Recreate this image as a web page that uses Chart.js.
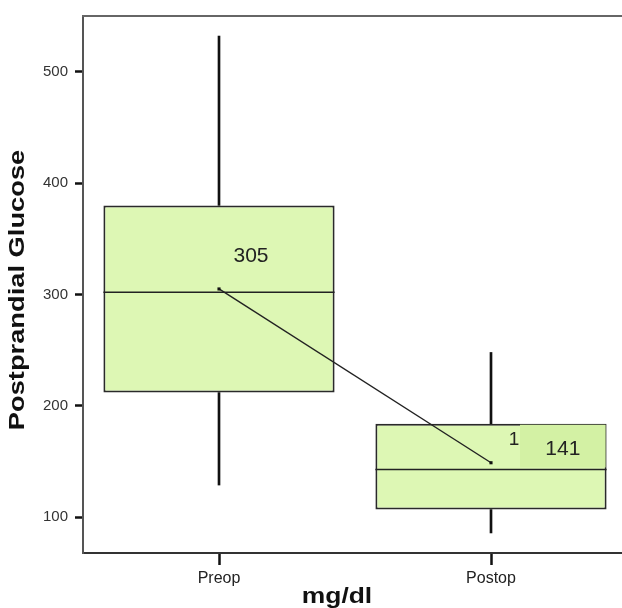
<!DOCTYPE html>
<html>
<head>
<meta charset="utf-8">
<script src="https://cdn.jsdelivr.net/npm/chart.js@4.4.1/dist/chart.umd.min.js"></script>
<style>
  html, body { margin: 0; padding: 0; background: #fff; overflow: hidden; }
  #wrap { width: 640px; height: 608px; }
</style>
</head>
<body>
<div id="wrap"><canvas id="chart" width="640" height="608"></canvas></div>
<script>
// --- datos ---
const groups = ['Preop', 'Postop'];
const whiskerMin = [129, 86];
const q1 = [212, 107];
const medians = [302, 143];
const q3 = [380, 184];
const whiskerMax = [532, 248];
const means = [305, 149];
const yTicks = [100, 200, 300, 400, 500];
const valueLabels = ['305', '141'];
const caseLabel = '1';

const boxFill = '#ddf7b4';
const labelFill = '#d3f1a4';

// cajas, bigotes y medianas a partir de los arrays
const boxData = groups.map((g, i) => [q1[i], q3[i]]);
const lowWhisker = groups.map((g, i) => [whiskerMin[i], q1[i]]);
const highWhisker = groups.map((g, i) => [q3[i], whiskerMax[i]]);

function stretchedText(ctx, text, x, y, sx) {
    ctx.save();
    ctx.translate(x, y);
    ctx.scale(sx, 1);
    ctx.fillText(text, 0, 0);
    ctx.restore();
}

const extras = {
    id: 'extras',
    afterDatasetsDraw(chart) {
        const ctx = chart.ctx;
        const y = chart.scales.y;
        const boxes = chart.getDatasetMeta(2).data;

        // medianas
        ctx.save();
        ctx.strokeStyle = '#222';
        ctx.lineWidth = 1.6;
        boxes.forEach((bar, i) => {
            const py = y.getPixelForValue(medians[i]);
            ctx.beginPath();
            ctx.moveTo(bar.x - bar.width / 2, py);
            ctx.lineTo(bar.x + bar.width / 2, py);
            ctx.stroke();
        });
        ctx.restore();

        // etiquetas de valores
        ctx.save();
        const pre = boxes[0], post = boxes[1];
        const topPost = y.getPixelForValue(q3[1]);
        const medPost = y.getPixelForValue(medians[1]);
        const bgLeft = post.x + 29;
        const bgRight = post.x + post.width / 2 - 1;
        ctx.fillStyle = labelFill;
        ctx.fillRect(bgLeft, topPost + 1, bgRight - bgLeft, medPost - topPost - 3);

        ctx.fillStyle = '#222';
        ctx.font = '21px Arial, "Liberation Sans", sans-serif';
        ctx.textAlign = 'center';
        ctx.textBaseline = 'middle';
        ctx.fillText(valueLabels[0], pre.x + 32, y.getPixelForValue(means[0]) - 33);
        ctx.fillText(valueLabels[1], (bgLeft + bgRight) / 2, topPost + 25);
        ctx.font = '19px Arial, "Liberation Sans", sans-serif';
        ctx.fillText(caseLabel, post.x + 23, topPost + 16);
        ctx.restore();
    },
    afterDraw(chart) {
        const ctx = chart.ctx;
        const area = chart.chartArea;
        ctx.save();
        // borde superior del marco
        ctx.strokeStyle = '#666';
        ctx.lineWidth = 2;
        ctx.beginPath();
        ctx.moveTo(area.left - 1, area.top);
        ctx.lineTo(chart.width, area.top);
        ctx.stroke();

        // titulos de ejes
        ctx.fillStyle = '#111';
        ctx.font = 'bold 22px Arial, "Liberation Sans", sans-serif';
        ctx.textAlign = 'center';
        ctx.textBaseline = 'middle';
        stretchedText(ctx, 'mg/dl', 337, 597, 1.2);

        ctx.save();
        ctx.translate(18, 290);
        ctx.rotate(-Math.PI / 2);
        stretchedText(ctx, 'Postprandial Glucose', 0, 0, 1.24);
        ctx.restore();
        ctx.restore();
    }
};

new Chart(document.getElementById('chart'), {
    data: {
        labels: groups,
        datasets: [
            {
                type: 'bar', data: lowWhisker, grouped: false, order: 3,
                backgroundColor: '#111', barThickness: 2, borderWidth: 0
            },
            {
                type: 'bar', data: highWhisker, grouped: false, order: 3,
                backgroundColor: '#111', barThickness: 2, borderWidth: 0
            },
            {
                type: 'bar', data: boxData, grouped: false, order: 2,
                backgroundColor: boxFill, borderColor: '#2a2a2a', borderWidth: 2,
                borderSkipped: false, barPercentage: 0.85, categoryPercentage: 1
            },
            {
                type: 'line', data: means, order: 0,
                borderColor: '#222', borderWidth: 1.4,
                pointStyle: 'rect', pointRadius: 2.2, pointBackgroundColor: '#111', pointBorderWidth: 0
            }
        ]
    },
    options: {
        responsive: false,
        animation: false,
        layout: { padding: { left: 0, top: 11, right: 13, bottom: 0 } },
        plugins: { legend: { display: false }, tooltip: { enabled: false } },
        scales: {
            x: {
                afterFit: s => { s.height = 55; },
                grid: { offset: false, drawOnChartArea: false, drawTicks: true, tickLength: 12, tickWidth: 2.5, tickColor: '#111' },
                border: { display: true, color: '#333', width: 2 },
                ticks: { color: '#222', padding: 4, font: { family: 'Arial, "Liberation Sans", sans-serif', size: 16 } }
            },
            y: {
                min: 68, max: 550,
                afterFit: s => { s.width = 83; },
                afterBuildTicks: s => { s.ticks = yTicks.map(v => ({ value: v })); },
                grid: { drawOnChartArea: false, drawTicks: true, tickLength: 8, tickWidth: 2.5, tickColor: '#111' },
                border: { display: true, color: '#555', width: 2 },
                ticks: { color: '#333', padding: 7, font: { family: 'Arial, "Liberation Sans", sans-serif', size: 15 } }
            }
        }
    },
    plugins: [extras]
});
</script>
</body>
</html>
